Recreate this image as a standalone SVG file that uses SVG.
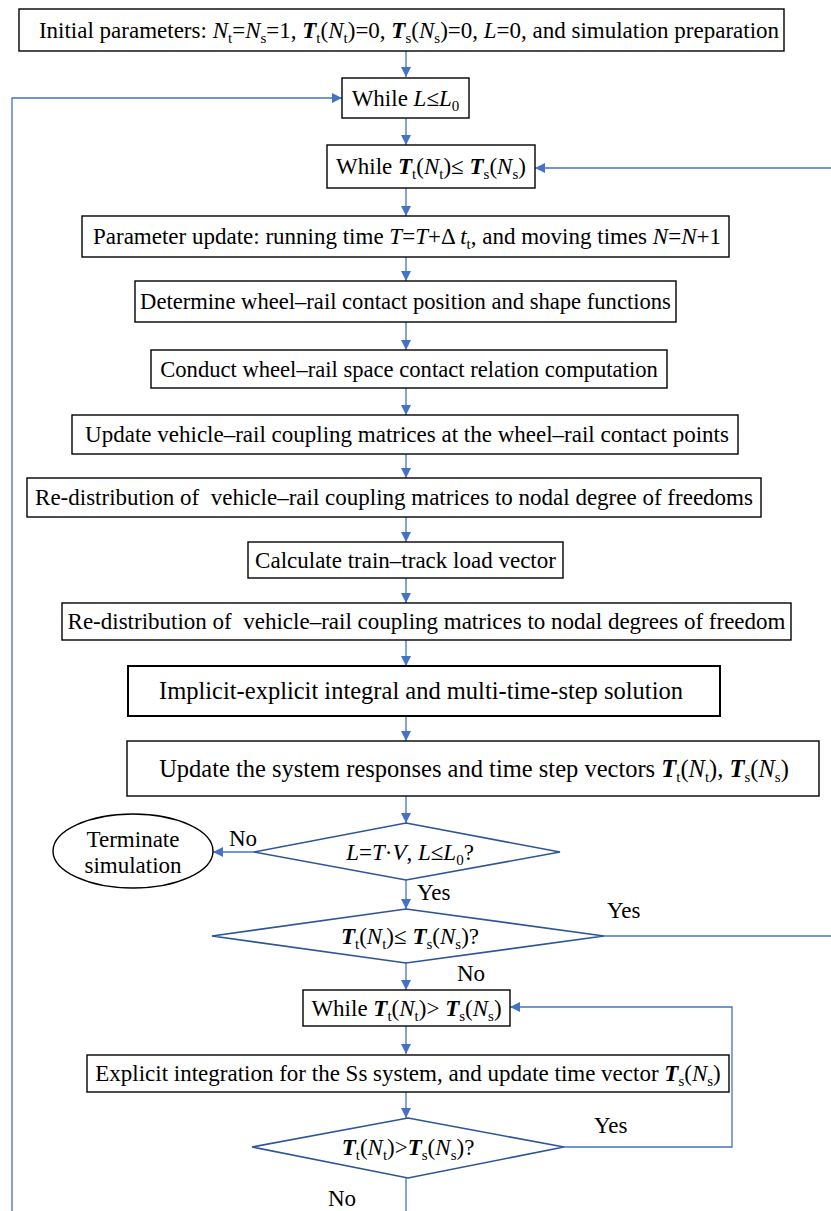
<svg xmlns="http://www.w3.org/2000/svg" width="831" height="1211" viewBox="0 0 831 1211">
<style>
text{font-family:"Liberation Serif","Times New Roman",serif;font-size:23px;fill:#000;text-anchor:middle}
.box{fill:#fff;stroke:#000;stroke-width:1.4}
.thick{stroke-width:2}
.dia{fill:#fff;stroke:#2F5597;stroke-width:1.6}
.ell{fill:#fff;stroke:#000;stroke-width:1.4}
.con{fill:none;stroke:#4472C4;stroke-width:1.3}
.lbl{text-anchor:start}
.big{font-size:24.5px}
.sm{font-size:22.6px}
.i{font-style:italic}
.bi{font-style:italic;font-weight:bold}
.sub{font-size:15px}
</style>
<defs>
<marker id="ah" viewBox="0 0 10 10" refX="10" refY="5" markerWidth="11" markerHeight="10" markerUnits="userSpaceOnUse" orient="auto">
<path d="M0,0 L10,5 L0,10 z" fill="#4472C4"/>
</marker>
</defs>

<g id="connectors">
<line class="con" x1="406" y1="51" x2="406" y2="77" marker-end="url(#ah)"/>
<line class="con" x1="406" y1="118" x2="406" y2="145" marker-end="url(#ah)"/>
<line class="con" x1="406" y1="188" x2="406" y2="216" marker-end="url(#ah)"/>
<line class="con" x1="406" y1="257" x2="406" y2="281" marker-end="url(#ah)"/>
<line class="con" x1="406" y1="322" x2="406" y2="350" marker-end="url(#ah)"/>
<line class="con" x1="406" y1="388" x2="406" y2="415" marker-end="url(#ah)"/>
<line class="con" x1="406" y1="454" x2="406" y2="478" marker-end="url(#ah)"/>
<line class="con" x1="406" y1="517" x2="406" y2="542" marker-end="url(#ah)"/>
<line class="con" x1="406" y1="578" x2="406" y2="603" marker-end="url(#ah)"/>
<line class="con" x1="406" y1="640" x2="406" y2="666" marker-end="url(#ah)"/>
<line class="con" x1="406" y1="716" x2="406" y2="741" marker-end="url(#ah)"/>
<line class="con" x1="406" y1="796" x2="406" y2="823" marker-end="url(#ah)"/>
<line class="con" x1="254" y1="852" x2="213" y2="852" marker-end="url(#ah)"/>
<line class="con" x1="406" y1="880" x2="406" y2="909" marker-end="url(#ah)"/>
<line class="con" x1="406" y1="963" x2="406" y2="990" marker-end="url(#ah)"/>
<line class="con" x1="406" y1="1026" x2="406" y2="1054" marker-end="url(#ah)"/>
<line class="con" x1="406" y1="1092" x2="406" y2="1118" marker-end="url(#ah)"/>
<line class="con" x1="604" y1="936" x2="831" y2="936"/>
<line class="con" x1="831" y1="168" x2="535" y2="168" marker-end="url(#ah)"/>
<polyline class="con" points="564,1147 732,1147 732,1007 510,1007" marker-end="url(#ah)"/>
<line class="con" x1="406" y1="1178" x2="406" y2="1211"/>
<polyline class="con" points="12,1211 12,98 342,98" marker-end="url(#ah)"/>
<text class="lbl" x="229" y="846">No</text>
<text class="lbl" x="417" y="900">Yes</text>
<text class="lbl" x="607" y="918">Yes</text>
<text class="lbl" x="457" y="981">No</text>
<text class="lbl" x="594" y="1133">Yes</text>
<text class="lbl" x="328" y="1206">No</text>
</g>

<g id="n1">
<rect class="box" x="19" y="9" width="765" height="42"/>
<text x="409" y="38">Initial parameters: <tspan class="i">N</tspan><tspan class="sub" dy="5">t</tspan><tspan dy="-5">=</tspan><tspan class="i">N</tspan><tspan class="sub" dy="5">s</tspan><tspan dy="-5">=1, </tspan><tspan class="bi">T</tspan><tspan class="sub" dy="5">t</tspan><tspan dy="-5">(</tspan><tspan class="i">N</tspan><tspan class="sub" dy="5">t</tspan><tspan dy="-5">)=0, </tspan><tspan class="bi">T</tspan><tspan class="sub" dy="5">s</tspan><tspan dy="-5">(</tspan><tspan class="i">N</tspan><tspan class="sub" dy="5">s</tspan><tspan dy="-5">)=0, </tspan><tspan class="i">L</tspan>=0, and simulation preparation</text>
</g>

<g id="n2">
<rect class="box" x="342" y="78" width="127" height="40"/>
<text x="405.5" y="106">While <tspan class="i">L</tspan>≤<tspan class="i">L</tspan><tspan class="sub" dy="5">0</tspan></text>
</g>

<g id="n3">
<rect class="box" x="327" y="145" width="208" height="43"/>
<text x="431" y="174">While <tspan class="bi">T</tspan><tspan class="sub" dy="5">t</tspan><tspan dy="-5">(</tspan><tspan class="i">N</tspan><tspan class="sub" dy="5">t</tspan><tspan dy="-5">)≤ </tspan><tspan class="bi">T</tspan><tspan class="sub" dy="5">s</tspan><tspan dy="-5">(</tspan><tspan class="i">N</tspan><tspan class="sub" dy="5">s</tspan><tspan dy="-5">)</tspan></text>
</g>

<g id="n4">
<rect class="box" x="82" y="216" width="647" height="41"/>
<text x="407" y="244">Parameter update: running time <tspan class="i">T</tspan>=<tspan class="i">T</tspan>+Δ <tspan class="i">t</tspan><tspan class="sub" dy="5">t</tspan><tspan dy="-5">, and moving times </tspan><tspan class="i">N</tspan>=<tspan class="i">N</tspan>+1</text>
</g>

<g id="n5">
<rect class="box" x="135" y="281" width="541" height="41"/>
<text class="sm" x="405.5" y="309">Determine wheel–rail contact position and shape functions</text>
</g>

<g id="n6">
<rect class="box" x="151" y="350" width="516" height="38"/>
<text class="sm" x="409" y="377">Conduct wheel–rail space contact relation computation</text>
</g>

<g id="n7">
<rect class="box" x="72" y="415" width="666" height="39"/>
<text x="407" y="442">Update vehicle–rail coupling matrices at the wheel–rail contact points</text>
</g>

<g id="n8">
<rect class="box" x="27" y="478" width="734" height="39"/>
<text x="394" y="505" xml:space="preserve">Re-distribution of  vehicle–rail coupling matrices to nodal degree of freedoms</text>
</g>

<g id="n9">
<rect class="box" x="248" y="542" width="315" height="36"/>
<text x="405.5" y="568">Calculate train–track load vector</text>
</g>

<g id="n10">
<rect class="box" x="62" y="603" width="729" height="37"/>
<text x="426.5" y="629" xml:space="preserve">Re-distribution of  vehicle–rail coupling matrices to nodal degrees of freedom</text>
</g>

<g id="n11">
<rect class="box thick" x="128" y="666" width="592" height="50"/>
<text class="big" x="421" y="699">Implicit-explicit integral and multi-time-step solution</text>
</g>

<g id="n12">
<rect class="box" x="127" y="741" width="692" height="55"/>
<text class="big" x="474" y="777">Update the system responses and time step vectors <tspan class="bi">T</tspan><tspan class="sub" dy="5">t</tspan><tspan dy="-5">(</tspan><tspan class="i">N</tspan><tspan class="sub" dy="5">t</tspan><tspan dy="-5">), </tspan><tspan class="bi">T</tspan><tspan class="sub" dy="5">s</tspan><tspan dy="-5">(</tspan><tspan class="i">N</tspan><tspan class="sub" dy="5">s</tspan><tspan dy="-5">)</tspan></text>
</g>

<g id="d1">
<polygon class="dia" points="406,823 560,852 406,880 254,852"/>
<text x="410" y="860"><tspan class="i">L</tspan>=<tspan class="i">T</tspan>·<tspan class="i">V</tspan>, <tspan class="i">L</tspan>≤<tspan class="i">L</tspan><tspan class="sub" dy="5">0</tspan><tspan dy="-5">?</tspan></text>
</g>

<g id="term">
<ellipse class="ell" cx="133" cy="851" rx="80" ry="37"/>
<text x="133" y="847">Terminate</text>
<text x="133" y="873">simulation</text>
</g>

<g id="d2">
<polygon class="dia" points="406,909 604,936 406,963 212,936"/>
<text x="410" y="944"><tspan class="bi">T</tspan><tspan class="sub" dy="5">t</tspan><tspan dy="-5">(</tspan><tspan class="i">N</tspan><tspan class="sub" dy="5">t</tspan><tspan dy="-5">)≤ </tspan><tspan class="bi">T</tspan><tspan class="sub" dy="5">s</tspan><tspan dy="-5">(</tspan><tspan class="i">N</tspan><tspan class="sub" dy="5">s</tspan><tspan dy="-5">)?</tspan></text>
</g>

<g id="n13">
<rect class="box" x="303" y="990" width="207" height="36"/>
<text x="406.5" y="1016">While <tspan class="bi">T</tspan><tspan class="sub" dy="5">t</tspan><tspan dy="-5">(</tspan><tspan class="i">N</tspan><tspan class="sub" dy="5">t</tspan><tspan dy="-5">)&gt; </tspan><tspan class="bi">T</tspan><tspan class="sub" dy="5">s</tspan><tspan dy="-5">(</tspan><tspan class="i">N</tspan><tspan class="sub" dy="5">s</tspan><tspan dy="-5">)</tspan></text>
</g>

<g id="n14">
<rect class="box" x="87" y="1055" width="642" height="37"/>
<text x="408" y="1081">Explicit integration for the Ss system, and update time vector <tspan class="bi">T</tspan><tspan class="sub" dy="5">s</tspan><tspan dy="-5">(</tspan><tspan class="i">N</tspan><tspan class="sub" dy="5">s</tspan><tspan dy="-5">)</tspan></text>
</g>

<g id="d3">
<polygon class="dia" points="408,1118 564,1147 408,1178 252,1147"/>
<text x="408" y="1155"><tspan class="bi">T</tspan><tspan class="sub" dy="5">t</tspan><tspan dy="-5">(</tspan><tspan class="i">N</tspan><tspan class="sub" dy="5">t</tspan><tspan dy="-5">)&gt;</tspan><tspan class="bi">T</tspan><tspan class="sub" dy="5">s</tspan><tspan dy="-5">(</tspan><tspan class="i">N</tspan><tspan class="sub" dy="5">s</tspan><tspan dy="-5">)?</tspan></text>
</g>
</svg>
